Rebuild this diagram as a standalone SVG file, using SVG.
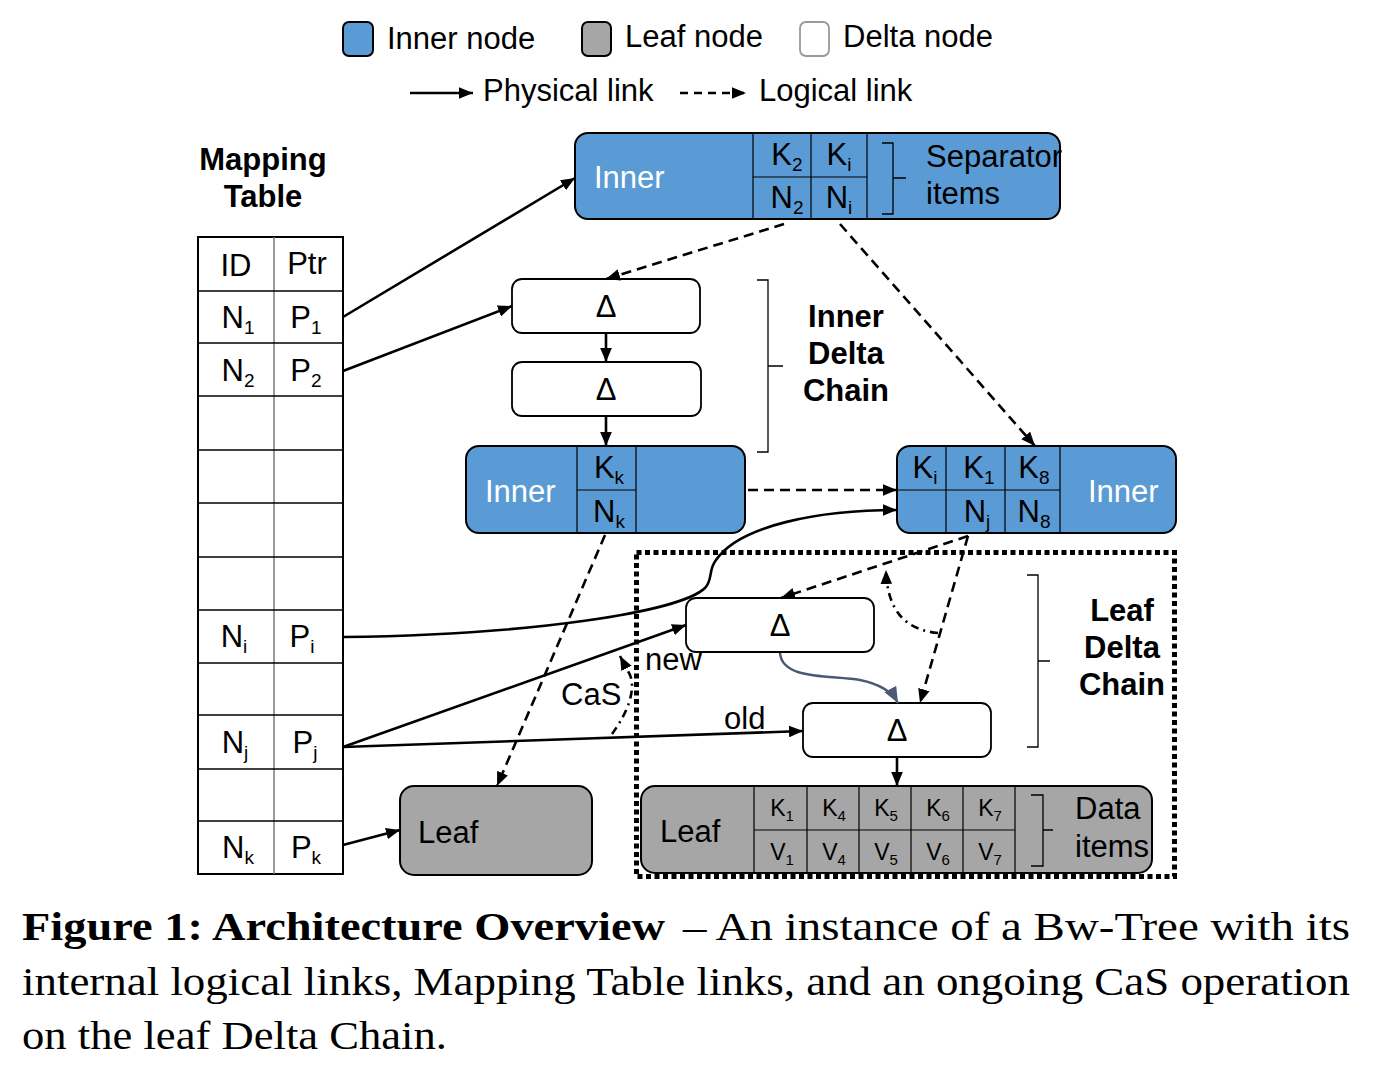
<svg xmlns="http://www.w3.org/2000/svg" width="1378" height="1072" viewBox="0 0 1378 1072">
<defs>
<style>
.s{font-family:"Liberation Sans",Arial,sans-serif;font-size:31px;fill:#000}
.w{fill:#fff}
.b{font-weight:bold}
.m{text-anchor:middle}
.sub{font-size:19px}
.sm{font-size:23px}
.sm2{font-size:15px}
.cap{font-family:"Liberation Serif","Times New Roman",serif;font-size:41px;fill:#000}
.inner{fill:#5B9BD5;stroke:#000;stroke-width:2}
.leaf{fill:#A6A6A6;stroke:#000;stroke-width:2}
.delta{fill:#fff;stroke:#000;stroke-width:1.8}
.grid{stroke:#000;stroke-width:1.2;fill:none}
.br{stroke:#000;stroke-width:1.3;fill:none}
.phy{stroke:#000;stroke-width:2.6;fill:none;marker-end:url(#ah)}
.log{stroke:#000;stroke-width:2.6;fill:none;stroke-dasharray:10 6;marker-end:url(#ah)}
.dd{stroke:#000;stroke-width:2.6;fill:none;stroke-dasharray:8 5 2 5;marker-end:url(#ah)}
.tl{stroke:#000;stroke-width:1.5}
</style>
<marker id="ah" viewBox="0 0 12 10" refX="12" refY="5" markerWidth="14" markerHeight="12" markerUnits="userSpaceOnUse" orient="auto"><path d="M0,0 L12,5 L0,10 z" fill="#000"/></marker>
<marker id="ahb" viewBox="0 0 12 10" refX="12" refY="5" markerWidth="16" markerHeight="14" markerUnits="userSpaceOnUse" orient="auto"><path d="M0,0 L12,5 L0,10 z" fill="#4A5A74"/></marker>
</defs>
<rect width="1378" height="1072" fill="#fff"/>

<g id="legend">
 <rect x="343" y="22" width="30" height="34" rx="6" class="inner"/>
 <text class="s" x="387" y="49">Inner node</text>
 <rect x="582" y="22" width="29" height="34" rx="6" class="leaf"/>
 <text class="s" x="625" y="47">Leaf node</text>
 <rect x="800" y="22" width="29" height="34" rx="6" fill="#fff" stroke="#999" stroke-width="1.8"/>
 <text class="s" x="843" y="47">Delta node</text>
 <line x1="410" y1="93" x2="473" y2="93" class="phy"/>
 <text class="s" x="483" y="101">Physical link</text>
 <line x1="680" y1="93" x2="746" y2="93" class="log" style="stroke-dasharray:8 6"/>
 <text class="s" x="759" y="101">Logical link</text>
</g>

<g id="mapping-table">
 <text class="s b m" x="263" y="170">Mapping</text>
 <text class="s b m" x="263" y="207">Table</text>
 <rect x="198" y="237" width="145" height="637" fill="#fff" stroke="#000" stroke-width="2"/>
 <line x1="274" y1="237" x2="274" y2="874" stroke="#777" stroke-width="1.5"/>
 <line class="tl" x1="198" y1="291" x2="343" y2="291"/>
 <line class="tl" x1="198" y1="343" x2="343" y2="343"/>
 <line class="tl" x1="198" y1="396" x2="343" y2="396"/>
 <line class="tl" x1="198" y1="450" x2="343" y2="450"/>
 <line class="tl" x1="198" y1="503" x2="343" y2="503"/>
 <line class="tl" x1="198" y1="557" x2="343" y2="557"/>
 <line class="tl" x1="198" y1="610" x2="343" y2="610"/>
 <line class="tl" x1="198" y1="663" x2="343" y2="663"/>
 <line class="tl" x1="198" y1="715" x2="343" y2="715"/>
 <line class="tl" x1="198" y1="769" x2="343" y2="769"/>
 <line class="tl" x1="198" y1="821" x2="343" y2="821"/>
 <text class="s m" x="236" y="276">ID</text>
 <text class="s m" x="307" y="274">Ptr</text>
 <text class="s m" x="238" y="328">N<tspan class="sub" dy="6">1</tspan></text>
 <text class="s m" x="306" y="328">P<tspan class="sub" dy="6">1</tspan></text>
 <text class="s m" x="238" y="381">N<tspan class="sub" dy="6">2</tspan></text>
 <text class="s m" x="306" y="381">P<tspan class="sub" dy="6">2</tspan></text>
 <text class="s m" x="234" y="647">N<tspan class="sub" dy="6">i</tspan></text>
 <text class="s m" x="302" y="647">P<tspan class="sub" dy="6">i</tspan></text>
 <text class="s m" x="235" y="753">N<tspan class="sub" dy="6">j</tspan></text>
 <text class="s m" x="305" y="753">P<tspan class="sub" dy="6">j</tspan></text>
 <text class="s m" x="238" y="858">N<tspan class="sub" dy="6">k</tspan></text>
 <text class="s m" x="306" y="858">P<tspan class="sub" dy="6">k</tspan></text>
</g>

<g id="inner-top">
 <rect x="575" y="133" width="485" height="86" rx="13" class="inner"/>
 <text class="s w" x="594" y="188">Inner</text>
 <path class="grid" d="M753,133 V219 M811,133 V219 M867,133 V219 M753,177 H867"/>
 <text class="s m" x="787" y="165">K<tspan class="sub" dy="6">2</tspan></text>
 <text class="s m" x="839" y="165">K<tspan class="sub" dy="6">i</tspan></text>
 <text class="s m" x="787" y="208">N<tspan class="sub" dy="6">2</tspan></text>
 <text class="s m" x="839" y="208">N<tspan class="sub" dy="6">i</tspan></text>
 <path class="br" d="M882,143 H893 V214 H882 M893,178 H906"/>
 <text class="s" x="926" y="167">Separator</text>
 <text class="s" x="926" y="204">items</text>
</g>

<g id="delta-inner-1">
 <rect x="512" y="279" width="188" height="54" rx="10" class="delta"/>
 <text class="s m" x="606" y="317">Δ</text>
</g>
<g id="delta-inner-2">
 <rect x="512" y="362" width="189" height="54" rx="10" class="delta"/>
 <text class="s m" x="606" y="400">Δ</text>
</g>
<g id="inner-delta-chain-label">
 <path class="br" d="M757,280 H768 V452 H757 M768,366 H783"/>
 <text class="s b m" x="846" y="327">Inner</text>
 <text class="s b m" x="846" y="364">Delta</text>
 <text class="s b m" x="846" y="401">Chain</text>
</g>

<g id="inner-k">
 <rect x="466" y="446" width="279" height="87" rx="13" class="inner"/>
 <text class="s w" x="485" y="502">Inner</text>
 <path class="grid" d="M577,446 V533 M636,446 V533 M577,490 H636"/>
 <text class="s m" x="609" y="478">K<tspan class="sub" dy="6">k</tspan></text>
 <text class="s m" x="609" y="522">N<tspan class="sub" dy="6">k</tspan></text>
</g>

<g id="inner-right">
 <rect x="897" y="446" width="279" height="87" rx="13" class="inner"/>
 <text class="s w" x="1088" y="502">Inner</text>
 <path class="grid" d="M946,446 V533 M1005,446 V533 M1060,446 V533 M897,490 H1060"/>
 <text class="s m" x="925" y="478">K<tspan class="sub" dy="6">i</tspan></text>
 <text class="s m" x="979" y="478">K<tspan class="sub" dy="6">1</tspan></text>
 <text class="s m" x="1034" y="478">K<tspan class="sub" dy="6">8</tspan></text>
 <text class="s m" x="977" y="522">N<tspan class="sub" dy="6">j</tspan></text>
 <text class="s m" x="1034" y="522">N<tspan class="sub" dy="6">8</tspan></text>
</g>

<g id="leaf-left">
 <rect x="400" y="786" width="192" height="89" rx="14" class="leaf"/>
 <text class="s" x="418" y="843">Leaf</text>
</g>

<g id="leaf-delta-chain">
 <rect x="636.5" y="552.5" width="538" height="324" fill="none" stroke="#000" stroke-width="5" stroke-dasharray="5 3.5"/>
 <path class="br" d="M1027,575 H1038 V747 H1027 M1038,661 H1050"/>
 <text class="s b m" x="1122" y="621">Leaf</text>
 <text class="s b m" x="1122" y="658">Delta</text>
 <text class="s b m" x="1122" y="695">Chain</text>
</g>

<g id="delta-new">
 <rect x="686" y="598" width="188" height="54" rx="10" class="delta"/>
 <text class="s m" x="780" y="636">Δ</text>
</g>
<g id="delta-old">
 <rect x="803" y="703" width="188" height="54" rx="10" class="delta"/>
 <text class="s m" x="897" y="741">Δ</text>
</g>

<g id="leaf-right">
 <rect x="641" y="786" width="511" height="87" rx="14" class="leaf"/>
 <text class="s" x="660" y="842">Leaf</text>
 <path class="grid" d="M754,786 V873 M807,786 V873 M859,786 V873 M911,786 V873 M963,786 V873 M1015,786 V873 M754,830 H1015"/>
 <text class="s sm m" x="782" y="816">K<tspan class="sm2" dy="5">1</tspan></text>
 <text class="s sm m" x="834" y="816">K<tspan class="sm2" dy="5">4</tspan></text>
 <text class="s sm m" x="886" y="816">K<tspan class="sm2" dy="5">5</tspan></text>
 <text class="s sm m" x="938" y="816">K<tspan class="sm2" dy="5">6</tspan></text>
 <text class="s sm m" x="990" y="816">K<tspan class="sm2" dy="5">7</tspan></text>
 <text class="s sm m" x="782" y="860">V<tspan class="sm2" dy="5">1</tspan></text>
 <text class="s sm m" x="834" y="860">V<tspan class="sm2" dy="5">4</tspan></text>
 <text class="s sm m" x="886" y="860">V<tspan class="sm2" dy="5">5</tspan></text>
 <text class="s sm m" x="938" y="860">V<tspan class="sm2" dy="5">6</tspan></text>
 <text class="s sm m" x="990" y="860">V<tspan class="sm2" dy="5">7</tspan></text>
 <path class="br" d="M1031,795 H1043 V866 H1031 M1043,830 H1053"/>
 <text class="s" x="1075" y="819">Data</text>
 <text class="s" x="1075" y="857">items</text>
</g>

<g id="connectors">
 <line class="phy" x1="343" y1="317" x2="575" y2="178"/>
 <line class="phy" x1="343" y1="371" x2="512" y2="306"/>
 <path class="phy" d="M343,637 C530,635 680,612 705,588 C713,580 708,570 716,560 C740,525 820,510 897,510"/>
 <line class="phy" x1="343" y1="747" x2="686" y2="625"/>
 <line class="phy" x1="343" y1="747" x2="803" y2="731"/>
 <line class="phy" x1="343" y1="845" x2="400" y2="830"/>
 <line class="phy" x1="606" y1="333" x2="606" y2="362"/>
 <line class="phy" x1="606" y1="416" x2="606" y2="446"/>
 <line class="phy" x1="897" y1="757" x2="897" y2="786"/>
 <line class="log" x1="784" y1="224" x2="606" y2="279"/>
 <line class="log" x1="840" y1="224" x2="1035" y2="446"/>
 <line class="log" x1="748" y1="490" x2="897" y2="490"/>
 <line class="log" x1="605" y1="535" x2="497" y2="786"/>
 <line class="log" x1="968" y1="536" x2="781" y2="598"/>
 <line class="log" x1="968" y1="536" x2="920" y2="703"/>
 <path class="dd" d="M938,633 C905,630 887,610 886,570"/>
 <path class="dd" d="M612,734 C628,712 636,690 630,675 L620,656"/>
 <path d="M780,653 C782,680 830,675 860,680 C880,684 892,692 898,703" fill="none" stroke="#4A5A74" stroke-width="2.5" marker-end="url(#ahb)"/>
 <text class="s" x="645" y="670">new</text>
 <text class="s" x="561" y="705">CaS</text>
 <text class="s" x="724" y="729">old</text>
</g>

<g id="caption">
 <text class="cap b" x="22" y="940" textLength="643" lengthAdjust="spacingAndGlyphs">Figure 1: Architecture Overview</text>
 <text class="cap" x="683" y="940" textLength="667" lengthAdjust="spacingAndGlyphs">– An instance of a Bw-Tree with its</text>
 <text class="cap" x="22" y="995" textLength="1328" lengthAdjust="spacingAndGlyphs">internal logical links, Mapping Table links, and an ongoing CaS operation</text>
 <text class="cap" x="22" y="1049" textLength="425" lengthAdjust="spacingAndGlyphs">on the leaf Delta Chain.</text>
</g>
</svg>
